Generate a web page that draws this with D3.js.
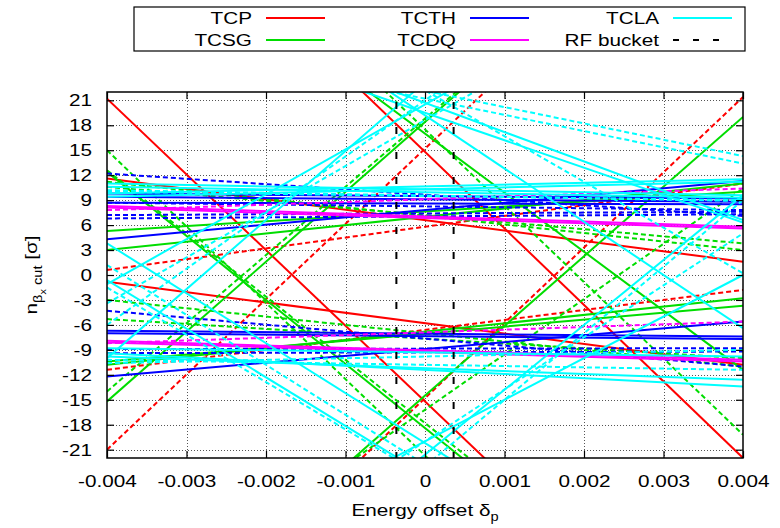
<!DOCTYPE html>
<html><head><meta charset="utf-8">
<script src="https://cdn.jsdelivr.net/npm/d3@7"></script>
<style>
html,body{margin:0;padding:0;background:#fff;}
svg{display:block;font-family:"Liberation Sans",Arial,sans-serif;}
</style></head><body>
<svg id="chart" width="780" height="528"></svg>
<script>
// Collimator families and their colours
const collimators = ["TCP", "TCSG", "TCTH", "TCDQ", "TCLA"];
const collimatorColours = ["#ff0000", "#00dd00", "#0000ff", "#ff00ff", "#00ffff"];

// Energy offset range over which every jaw cut is drawn
const deltaEdges = [-0.004, 0.004];

// One entry per jaw line: family, beam (1 = solid, 2 = dashed),
// normalised cut at delta = -0.004 and at delta = +0.004
const lineCollimator = [
  "TCP","TCP","TCP","TCP","TCP","TCP","TCP","TCP",
  "TCSG","TCSG","TCSG","TCSG","TCSG","TCSG","TCSG","TCSG","TCSG",
  "TCSG","TCSG","TCSG","TCSG","TCSG","TCSG","TCSG","TCSG",
  "TCTH","TCTH","TCTH","TCTH","TCTH","TCTH","TCTH","TCTH","TCTH","TCTH","TCTH","TCTH","TCTH","TCTH",
  "TCDQ","TCDQ","TCDQ","TCDQ","TCDQ","TCDQ",
  "TCLA","TCLA","TCLA","TCLA",
  "TCLA","TCLA","TCLA","TCLA",
  "TCLA","TCLA","TCLA","TCLA","TCLA","TCLA",
  "TCLA","TCLA","TCLA","TCLA",
  "TCLA","TCLA","TCLA","TCLA","TCLA","TCLA",
  "TCLA","TCLA","TCLA","TCLA","TCLA"
];
const lineBeam = [
  1,1,1,1,2,2,2,2,
  1,1,1,1,2,2,2,2,2,
  1,1,1,1,2,2,2,2,
  1,1,2,2,1,1,1,1,1,2,2,2,2,2,
  1,1,2,1,1,2,
  1,1,2,2,
  1,1,2,2,
  1,1,1,2,2,2,
  1,1,2,2,
  1,1,1,1,2,2,
  1,1,2,2,1
];
const cutAtLowEdge = [
  21.2, 51.6, 11.6, -0.8, -21.0, -51.0, 0.6, -11.4,
  12.4, 45.4, -15.2, -48.0, 12.6, 15.0, 54.2, -14.0, -42.8,
  5.3, 3.0, -10.8, -10.4, 10.6, 11.2, -3.0, -5.3,
  4.3, -12.2, 12.2, -4.3, 9.8, 9.4, 8.7, -6.7, -7.0, 8.7, 7.2, 6.8, -8.9, -9.4,
  8.3, 8.1, 7.8, -7.9, -8.1, -8.2,
  -1.1, -10.0, -3.4, -6.0,
  -40.0, -52.8, -55.0, -45.0,
  44.8, 34.8, 32.7, 44.2, 30.0, 29.0,
  3.8, -0.6, 1.2, -1.5,
  11.0, 10.6, 9.8, 9.4, 10.2, 10.0,
  -9.4, -9.8, -10.2, -10.6, -8.8
];
const cutAtHighEdge = [
  -51.6, -22.0, 1.6, -10.8, 51.4, 21.4, 11.0, -1.8,
  -49.2, -11.4, 52.0, 19.0, -48.2, -58.4, -19.2, 51.6, 10.4,
  10.0, 11.0, -2.8, -3.7, 3.8, 3.0, -11.0, -10.0,
  11.3, -5.6, 7.1, -11.0, 9.2, 8.8, 8.5, -7.4, -7.7, 7.8, 7.6, 7.3, -8.8, -9.2,
  5.8, 5.6, 10.4, -10.2, -10.4, -5.6,
  42.1, 56.4, 40.6, 48.0,
  0.0, 9.6, 9.0, 5.0,
  -6.4, 6.6, 6.3, 0.2, 14.3, 13.4,
  -44.2, -47.4, -46.8, -47.0,
  9.6, 9.3, 11.5, 11.2, 8.9, 9.0,
  -13.4, -12.6, -11.4, -9.0, -9.8
];

// RF bucket limits in energy offset
const rfBucket = [-0.00036, 0.00036];

// Axis ticks
const xTickValues = [-0.004, -0.003, -0.002, -0.001, 0, 0.001, 0.002, 0.003, 0.004];
const yTickValues = [-21, -18, -15, -12, -9, -6, -3, 0, 3, 6, 9, 12, 15, 18, 21];

const plot = { left: 107, right: 743, top: 92, bottom: 458 };
const stretch = 1.22;           // wide glyph proportions of the labels
const fontSize = 17;

const svg = d3.select("#chart");
const x = d3.scaleLinear().domain(deltaEdges).range([plot.left, plot.right]);
const y = d3.scaleLinear().domain([-22, 22]).range([plot.bottom, plot.top]);
const colourOf = d3.scaleOrdinal().domain(collimators).range(collimatorColours);

svg.append("rect").attr("width", 780).attr("height", 528).attr("fill", "#fff");

// dotted grid
const grid = svg.append("g").attr("stroke", "#555").attr("stroke-width", 1)
  .attr("stroke-dasharray", "1,2");
grid.selectAll("line.gx").data(xTickValues.slice(1, -1)).join("line")
  .attr("x1", d => Math.round(x(d)) + 0.5).attr("x2", d => Math.round(x(d)) + 0.5)
  .attr("y1", plot.top).attr("y2", plot.bottom);
grid.selectAll("line.gy").data(yTickValues).join("line")
  .attr("y1", d => Math.round(y(d)) + 0.5).attr("y2", d => Math.round(y(d)) + 0.5)
  .attr("x1", plot.left).attr("x2", plot.right);

// jaw cut lines
svg.append("clipPath").attr("id", "plotClip").append("rect")
  .attr("x", plot.left).attr("y", plot.top)
  .attr("width", plot.right - plot.left).attr("height", plot.bottom - plot.top);

const jawLine = d3.line().x(d => x(d[0])).y(d => y(d[1]));
const lines = lineCollimator.map((c, i) => ({
  collimator: c,
  beam: lineBeam[i],
  points: [[deltaEdges[0], cutAtLowEdge[i]], [deltaEdges[1], cutAtHighEdge[i]]]
}));
svg.append("g").attr("clip-path", "url(#plotClip)")
  .selectAll("path").data(lines).join("path")
  .attr("d", d => jawLine(d.points))
  .attr("fill", "none")
  .attr("stroke", d => colourOf(d.collimator))
  .attr("stroke-width", 2)
  .attr("stroke-dasharray", d => d.beam === 2 ? "5,3" : null);

// RF bucket
svg.append("g").selectAll("line").data(rfBucket).join("line")
  .attr("x1", d => x(d)).attr("x2", d => x(d))
  .attr("y1", plot.top).attr("y2", plot.bottom)
  .attr("stroke", "#000").attr("stroke-width", 2)
  .attr("stroke-dasharray", "7,18").attr("stroke-dashoffset", -10);

// axes with inward ticks on all four sides
function styleAxis(g) {
  g.select(".domain").remove();
  g.selectAll(".tick line").attr("stroke", "#000").attr("stroke-width", 1.2);
  g.selectAll("text").attr("font-size", fontSize).attr("fill", "#000")
    .attr("font-family", "Liberation Sans, Arial, sans-serif");
}
const gLeft = svg.append("g").attr("transform", `translate(${plot.left},0)`)
  .call(d3.axisLeft(y).tickValues(yTickValues).tickSize(-7).tickPadding(15).tickFormat(d => String(d)))
  .call(styleAxis);
gLeft.selectAll("text").attr("x", -15 / stretch).attr("transform", `scale(${stretch},1)`);
svg.append("g").attr("transform", `translate(${plot.right},0)`)
  .call(d3.axisRight(y).tickValues(yTickValues).tickSize(-7).tickFormat(""))
  .call(styleAxis);
const gBottom = svg.append("g").attr("transform", `translate(0,${plot.bottom})`)
  .call(d3.axisBottom(x).tickValues(xTickValues).tickSize(-7).tickPadding(17)
    .tickFormat(d => d === 0 ? "0" : d.toFixed(3)))
  .call(styleAxis);
gBottom.selectAll("text").attr("transform", `scale(${stretch},1)`);
svg.append("g").attr("transform", `translate(0,${plot.top})`)
  .call(d3.axisTop(x).tickValues(xTickValues).tickSize(-7).tickFormat(""))
  .call(styleAxis);

// frame
svg.append("rect").attr("x", plot.left).attr("y", plot.top)
  .attr("width", plot.right - plot.left).attr("height", plot.bottom - plot.top)
  .attr("fill", "none").attr("stroke", "#000").attr("stroke-width", 1.5);

// axis titles
const xTitle = svg.append("g").attr("transform", `translate(425,516) scale(${stretch},1)`)
  .append("text").attr("text-anchor", "middle").attr("font-size", fontSize);
xTitle.append("tspan").text("Energy offset δ");
xTitle.append("tspan").attr("font-size", 12).attr("dy", 5).text("p");

const yTitle = svg.append("g").attr("transform", `translate(37,275) rotate(-90) scale(${stretch},1)`)
  .append("text").attr("text-anchor", "middle").attr("font-size", fontSize);
yTitle.append("tspan").text("n");
yTitle.append("tspan").attr("font-size", 12).attr("dy", 5).text("β");
yTitle.append("tspan").attr("font-size", 9).attr("dy", 4).text("x");
yTitle.append("tspan").attr("font-size", 12).attr("dy", -4).text(" cut");
yTitle.append("tspan").attr("dy", -5).text(" [σ]");

// legend
const legendItems = collimators.map((c, i) => ({ label: c, colour: collimatorColours[i], dash: null }))
  .concat([{ label: "RF bucket", colour: "#000", dash: "6,14" }]);
const legend = svg.append("g");
legend.append("rect").attr("x", 134).attr("y", 7).attr("width", 611).attr("height", 44)
  .attr("fill", "#fff").attr("stroke", "#000").attr("stroke-width", 1.2);
const colTextRight = [252, 456, 659];
const rowY = [18, 40];
legendItems.forEach((item, i) => {
  const col = Math.floor(i / 2), row = i % 2;
  const tx = colTextRight[col], ty = rowY[row];
  legend.append("g").attr("transform", `translate(${tx},${ty}) scale(${stretch},1)`)
    .append("text").attr("text-anchor", "end").attr("dy", "0.36em")
    .attr("font-size", fontSize).text(item.label);
  legend.append("line").attr("x1", tx + 14).attr("x2", tx + 73)
    .attr("y1", ty).attr("y2", ty)
    .attr("stroke", item.colour).attr("stroke-width", 2)
    .attr("stroke-dasharray", item.dash);
});
</script>
</body></html>
